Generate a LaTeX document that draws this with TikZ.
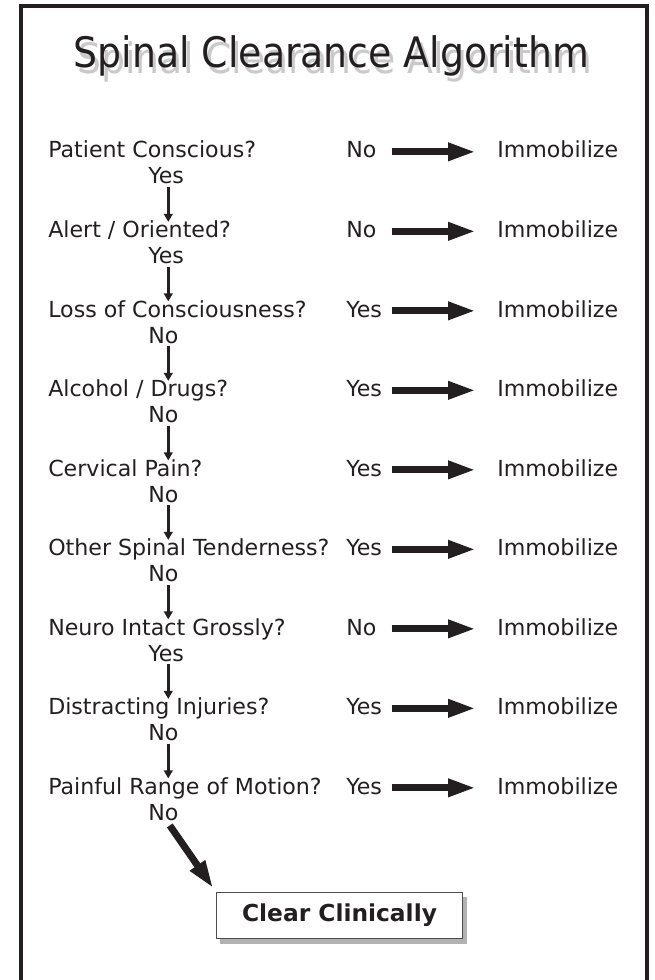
\documentclass[tikz,border=0pt]{standalone}
\usepackage{fontspec}
\setmainfont{DejaVu Sans}
\newfontfamily\titlefont{DejaVu Sans Condensed}
\usepackage{xcolor}
\usetikzlibrary{arrows.meta, positioning, shadows}
\definecolor{ink}{RGB}{35,31,32}

\begin{document}
\begin{tikzpicture}[
    x=0.75pt, y=-0.75pt,
    txt/.style={inner xsep=0pt, inner ysep=0pt, anchor=base west, text height=11.5pt, text depth=2.25pt, font=\fontsize{16.6}{19}\selectfont, text=ink},
    sublabel/.style={txt, text width=30pt, align=left},
    answer/.style={txt, text width=33.75pt, align=left},
    titletext/.style={anchor=base, inner sep=0pt, font=\titlefont\fontsize{31.5}{36}\selectfont},
    clearbox/.style={rectangle, draw=ink!80, line width=0.8pt, fill=white, minimum width=185pt, minimum height=35pt, font=\bfseries\fontsize{17.5}{21}\selectfont, text=ink, drop shadow={shadow xshift=3pt, shadow yshift=-3.5pt, fill=black, opacity=0.3}},
    bigarrow/.style={draw=ink, line width=5.25pt, -{Triangle[length=21pt, width=12.5pt]}, shorten >=15.75pt},
    downarrow/.style={draw=ink, line width=2.4pt, -{Triangle[length=6pt, width=6.5pt]}}
]
\useasboundingbox (0,0) rectangle (654,980);

% Frame and title
\draw[ink, line width=3pt] (21,990) -- (21,6.5) -- (647,6.5) -- (647,990);
\node[titletext, text=black!35, opacity=0.6] at (335,74) {Spinal Clearance Algorithm};
\node[titletext, text=ink] (title) at (331.5,68) {Spinal Clearance Algorithm};

% Questions
\node[txt] (q1) at (48,158) {Patient Conscious?};
\node[txt] (q2) at (48,237.5) {Alert / Oriented?};
\node[txt] (q3) at (48,317) {Loss of Consciousness?};
\node[txt] (q4) at (48,396.5) {Alcohol / Drugs?};
\node[txt] (q5) at (48,476) {Cervical Pain?};
\node[txt] (q6) at (48,555.5) {Other Spinal Tenderness?};
\node[txt] (q7) at (48,635) {Neuro Intact Grossly?};
\node[txt] (q8) at (48,714.5) {Distracting Injuries?};
\node[txt] (q9) at (48,794) {Painful Range of Motion?};

% Answers leading on
\node[sublabel] (s1) at (148,184) {Yes};
\node[sublabel] (s2) at (148,263.5) {Yes};
\node[sublabel] (s3) at (148,343) {No};
\node[sublabel] (s4) at (148,422.5) {No};
\node[sublabel] (s5) at (148,502) {No};
\node[sublabel] (s6) at (148,581.5) {No};
\node[sublabel] (s7) at (148,661) {Yes};
\node[sublabel] (s8) at (148,740.5) {No};
\node[sublabel] (s9) at (148,820) {No};

% Answers leading out
\node[answer] (a1) at (346,158) {No};
\node[answer] (a2) at (346,237.5) {No};
\node[answer] (a3) at (346,317) {Yes};
\node[answer] (a4) at (346,396.5) {Yes};
\node[answer] (a5) at (346,476) {Yes};
\node[answer] (a6) at (346,555.5) {Yes};
\node[answer] (a7) at (346,635) {No};
\node[answer] (a8) at (346,714.5) {Yes};
\node[answer] (a9) at (346,794) {Yes};

\node[txt] (m1) at (497,158) {Immobilize};
\node[txt] (m2) at (497,237.5) {Immobilize};
\node[txt] (m3) at (497,317) {Immobilize};
\node[txt] (m4) at (497,396.5) {Immobilize};
\node[txt] (m5) at (497,476) {Immobilize};
\node[txt] (m6) at (497,555.5) {Immobilize};
\node[txt] (m7) at (497,635) {Immobilize};
\node[txt] (m8) at (497,714.5) {Immobilize};
\node[txt] (m9) at (497,794) {Immobilize};

\node[clearbox] (clear) at (339.5,915.5) {Clear Clinically};

% Connections
\draw[bigarrow] (a1.east) -- (m1.west);
\draw[bigarrow] (a2.east) -- (m2.west);
\draw[bigarrow] (a3.east) -- (m3.west);
\draw[bigarrow] (a4.east) -- (m4.west);
\draw[bigarrow] (a5.east) -- (m5.west);
\draw[bigarrow] (a6.east) -- (m6.west);
\draw[bigarrow] (a7.east) -- (m7.west);
\draw[bigarrow] (a8.east) -- (m8.west);
\draw[bigarrow] (a9.east) -- (m9.west);

\draw[downarrow] (s1.south) -- (s1.south |- q2.north);
\draw[downarrow] (s2.south) -- (s2.south |- q3.north);
\draw[downarrow] (s3.south) -- (s3.south |- q4.north);
\draw[downarrow] (s4.south) -- (s4.south |- q5.north);
\draw[downarrow] (s5.south) -- (s5.south |- q6.north);
\draw[downarrow] (s6.south) -- (s6.south |- q7.north);
\draw[downarrow] (s7.south) -- (s7.south |- q8.north);
\draw[downarrow] (s8.south) -- (s8.south |- q9.north);

\draw[bigarrow, shorten >=3pt, shorten <=2pt] (s9.south) -- (clear.north west);

\end{tikzpicture}
\end{document}
